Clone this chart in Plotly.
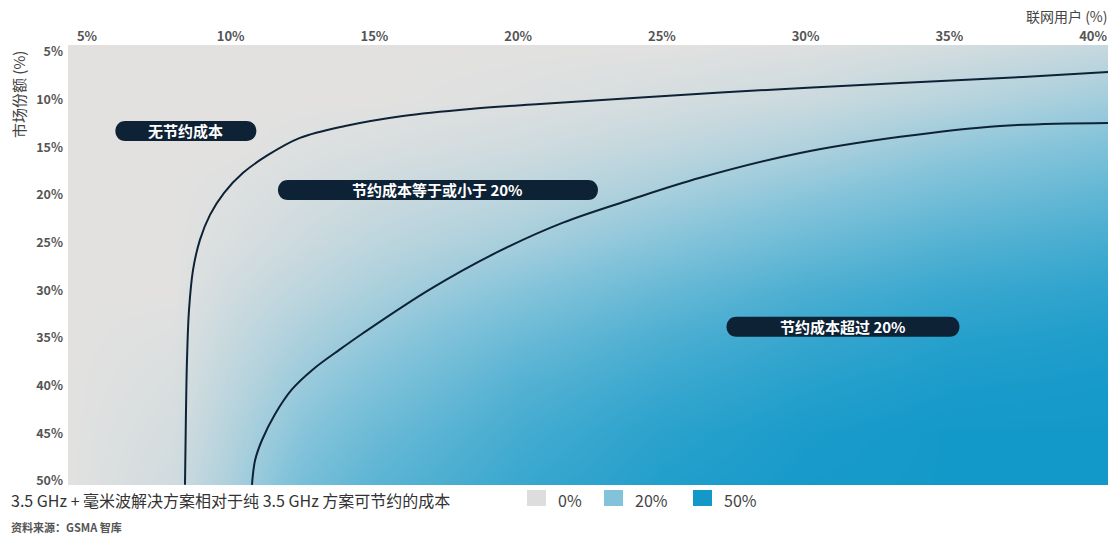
import plotly.graph_objects as go

# grid of estimated savings (%) read off the shaded background
users_pct = [4.3, 8, 10, 12.5, 15, 20, 25, 30, 35, 40.5]
share_pct = [4.3, 10, 15, 20, 25, 30, 35, 40, 45, 50.4]
savings = [
    [0, 0, 0, 0, 0, 0, 0, 1, 3, 6],
    [0, 0, 0, 0, 0, 1, 3, 5, 9, 14],
    [0, 0, 0, 1, 2, 4, 7, 11, 17, 22],
    [0, 0, 1, 3, 5, 8, 13, 19, 25, 30],
    [0, 0, 2, 5, 8, 13, 20, 27, 33, 37],
    [0, 0, 4, 8, 12, 20, 28, 35, 40, 43],
    [0, 1, 6, 12, 17, 27, 35, 41, 45, 47],
    [0, 2, 8, 16, 22, 33, 40, 45, 48, 49],
    [0, 3, 10, 20, 27, 37, 44, 48, 50, 50],
    [0, 4, 12, 24, 31, 40, 46, 49, 50, 50],
]

# boundary: no savings
curve0_x = [8.41, 8.44, 8.48, 8.55, 8.69, 8.93, 9.28, 9.77, 10.43, 11.30,
            12.41, 13.98, 15.99, 18.33, 20.76, 24.0, 28.66, 33.29, 37.57, 40.52]
curve0_y = [50.4, 43.57, 37.29, 32.04, 27.85, 24.71, 22.09, 19.78, 17.68, 15.80,
            14.01, 12.76, 11.71, 10.97, 10.45, 9.82, 8.98, 8.25, 7.62, 7.10]

# boundary: 20% savings
curve20_x = [10.74, 10.85, 11.09, 11.54, 12.13, 12.86, 13.80, 14.60, 16.93, 19.27,
             21.56, 23.9, 26.33, 29.81, 33.29, 36.77, 40.52]
curve20_y = [50.4, 47.8, 45.7, 43.0, 40.4, 38.3, 36.2, 34.5, 29.9, 26.0,
             22.9, 20.5, 18.2, 15.6, 13.9, 12.76, 12.44]

x_ticks = [5, 10, 15, 20, 25, 30, 35, 40]
y_ticks = [5, 10, 15, 20, 25, 30, 35, 40, 45, 50]

region_labels = ["无节约成本", "节约成本等于或小于 20%", "节约成本超过 20%"]
region_x = [8.44, 17.21, 31.30]
region_y = [13.28, 19.47, 33.83]

legend_title = "3.5 GHz + 毫米波解决方案相对于纯 3.5 GHz 方案可节约的成本"
legend_labels = ["0%", "20%", "50%"]
legend_colors = ["#DDDDDD", "#82C3D9", "#1398C8"]

FONT = "Noto Sans CJK SC"
NAVY = "#0E2236"

fig = go.Figure()

fig.add_trace(
    go.Heatmap(
        x=users_pct,
        y=share_pct,
        z=savings,
        zmin=0,
        zmax=50,
        zsmooth="best",
        colorscale=[[0, "#E2E1E0"], [0.4, "#86C4DA"], [1, "#1399C9"]],
        showscale=False,
        hoverinfo="skip",
    )
)

for cx, cy in [(curve0_x, curve0_y), (curve20_x, curve20_y)]:
    fig.add_trace(
        go.Scatter(
            x=cx,
            y=cy,
            mode="lines",
            line=dict(color=NAVY, width=2, shape="spline", smoothing=1.0),
            showlegend=False,
            hoverinfo="skip",
        )
    )


def pill_path(w, h):
    a = w / 2 - h / 2
    r = h / 2
    k = 4 / 3 * r
    return (f"M {-a},{r} L {a},{r} C {a + k},{r} {a + k},{-r} {a},{-r} "
            f"L {-a},{-r} C {-a - k},{-r} {-a - k},{r} {-a},{r} Z")


pill_widths = [141, 320, 233]
for label, lx, ly, w in zip(region_labels, region_x, region_y, pill_widths):
    fig.add_shape(
        type="path",
        xref="x",
        yref="y",
        xsizemode="pixel",
        ysizemode="pixel",
        xanchor=lx,
        yanchor=ly,
        path=pill_path(w, 20),
        fillcolor=NAVY,
        line=dict(width=0),
        layer="above",
    )
    fig.add_annotation(
        x=lx,
        y=ly,
        text=label,
        showarrow=False,
        font=dict(family=FONT, size=15, color="white", weight="bold"),
    )

# plot area in page pixels
L, T, W, H = 68, 45, 1040, 440
FIG_W, FIG_H = 1110, 535


def px(xp):
    return (xp - L) / W


def py(yp):
    return (T + H - yp) / H


def note(text, x, y, size, color, xanchor="left", weight="normal", angle=0):
    fig.add_annotation(
        x=x, y=y, xref="paper", yref="paper", xanchor=xanchor, yanchor="middle",
        text=text, showarrow=False, textangle=angle, borderpad=0,
        font=dict(family=FONT, size=size, color=color, weight=weight),
    )


note(legend_title, px(10), py(500), 16, "#333333")
swatch_left = [527, 604, 693]
for lab, col, sx in zip(legend_labels, legend_colors, swatch_left):
    fig.add_shape(
        type="rect", xref="paper", yref="paper",
        x0=px(sx), x1=px(sx + 19), y0=py(506), y1=py(490),
        fillcolor=col, line=dict(width=0),
    )
    note(lab, px(sx + 30), py(500), 16, "#444444")

note("资料来源：GSMA 智库", px(10), py(527), 11, "#555555", weight="bold")
note("联网用户 (%)", px(1109), py(16), 14, "#444444", xanchor="right")
note("市场份额 (%)", px(18), py(95), 15, "#444444", xanchor="center", angle=-90)

fig.update_xaxes(
    side="top",
    range=[4.34, 40.52],
    tickvals=x_ticks,
    ticktext=[f"{v}%" for v in x_ticks],
    showgrid=False,
    zeroline=False,
    showline=False,
    ticks="",
    ticklabelstandoff=0,
    tickfont=dict(family=FONT, size=13, color="#555555", weight="bold"),
)
fig.update_yaxes(
    range=[50.42, 4.27],
    tickvals=y_ticks,
    ticktext=[f"{v}%" for v in y_ticks],
    showgrid=False,
    zeroline=False,
    showline=False,
    ticks="",
    ticklabelstandoff=4,
    tickfont=dict(family=FONT, size=12.5, color="#555555", weight="bold"),
)

fig.update_layout(
    width=FIG_W,
    height=FIG_H,
    margin=dict(l=L, r=FIG_W - L - W, t=T, b=FIG_H - T - H),
    paper_bgcolor="white",
    plot_bgcolor="white",
    showlegend=False,
)

# drop the default body margin so the figure fills the window exactly
fig.write_html(
    "out.html",
    config={"displayModeBar": False},
    post_script="document.body.style.margin='0';document.body.style.overflow='hidden';",
)
